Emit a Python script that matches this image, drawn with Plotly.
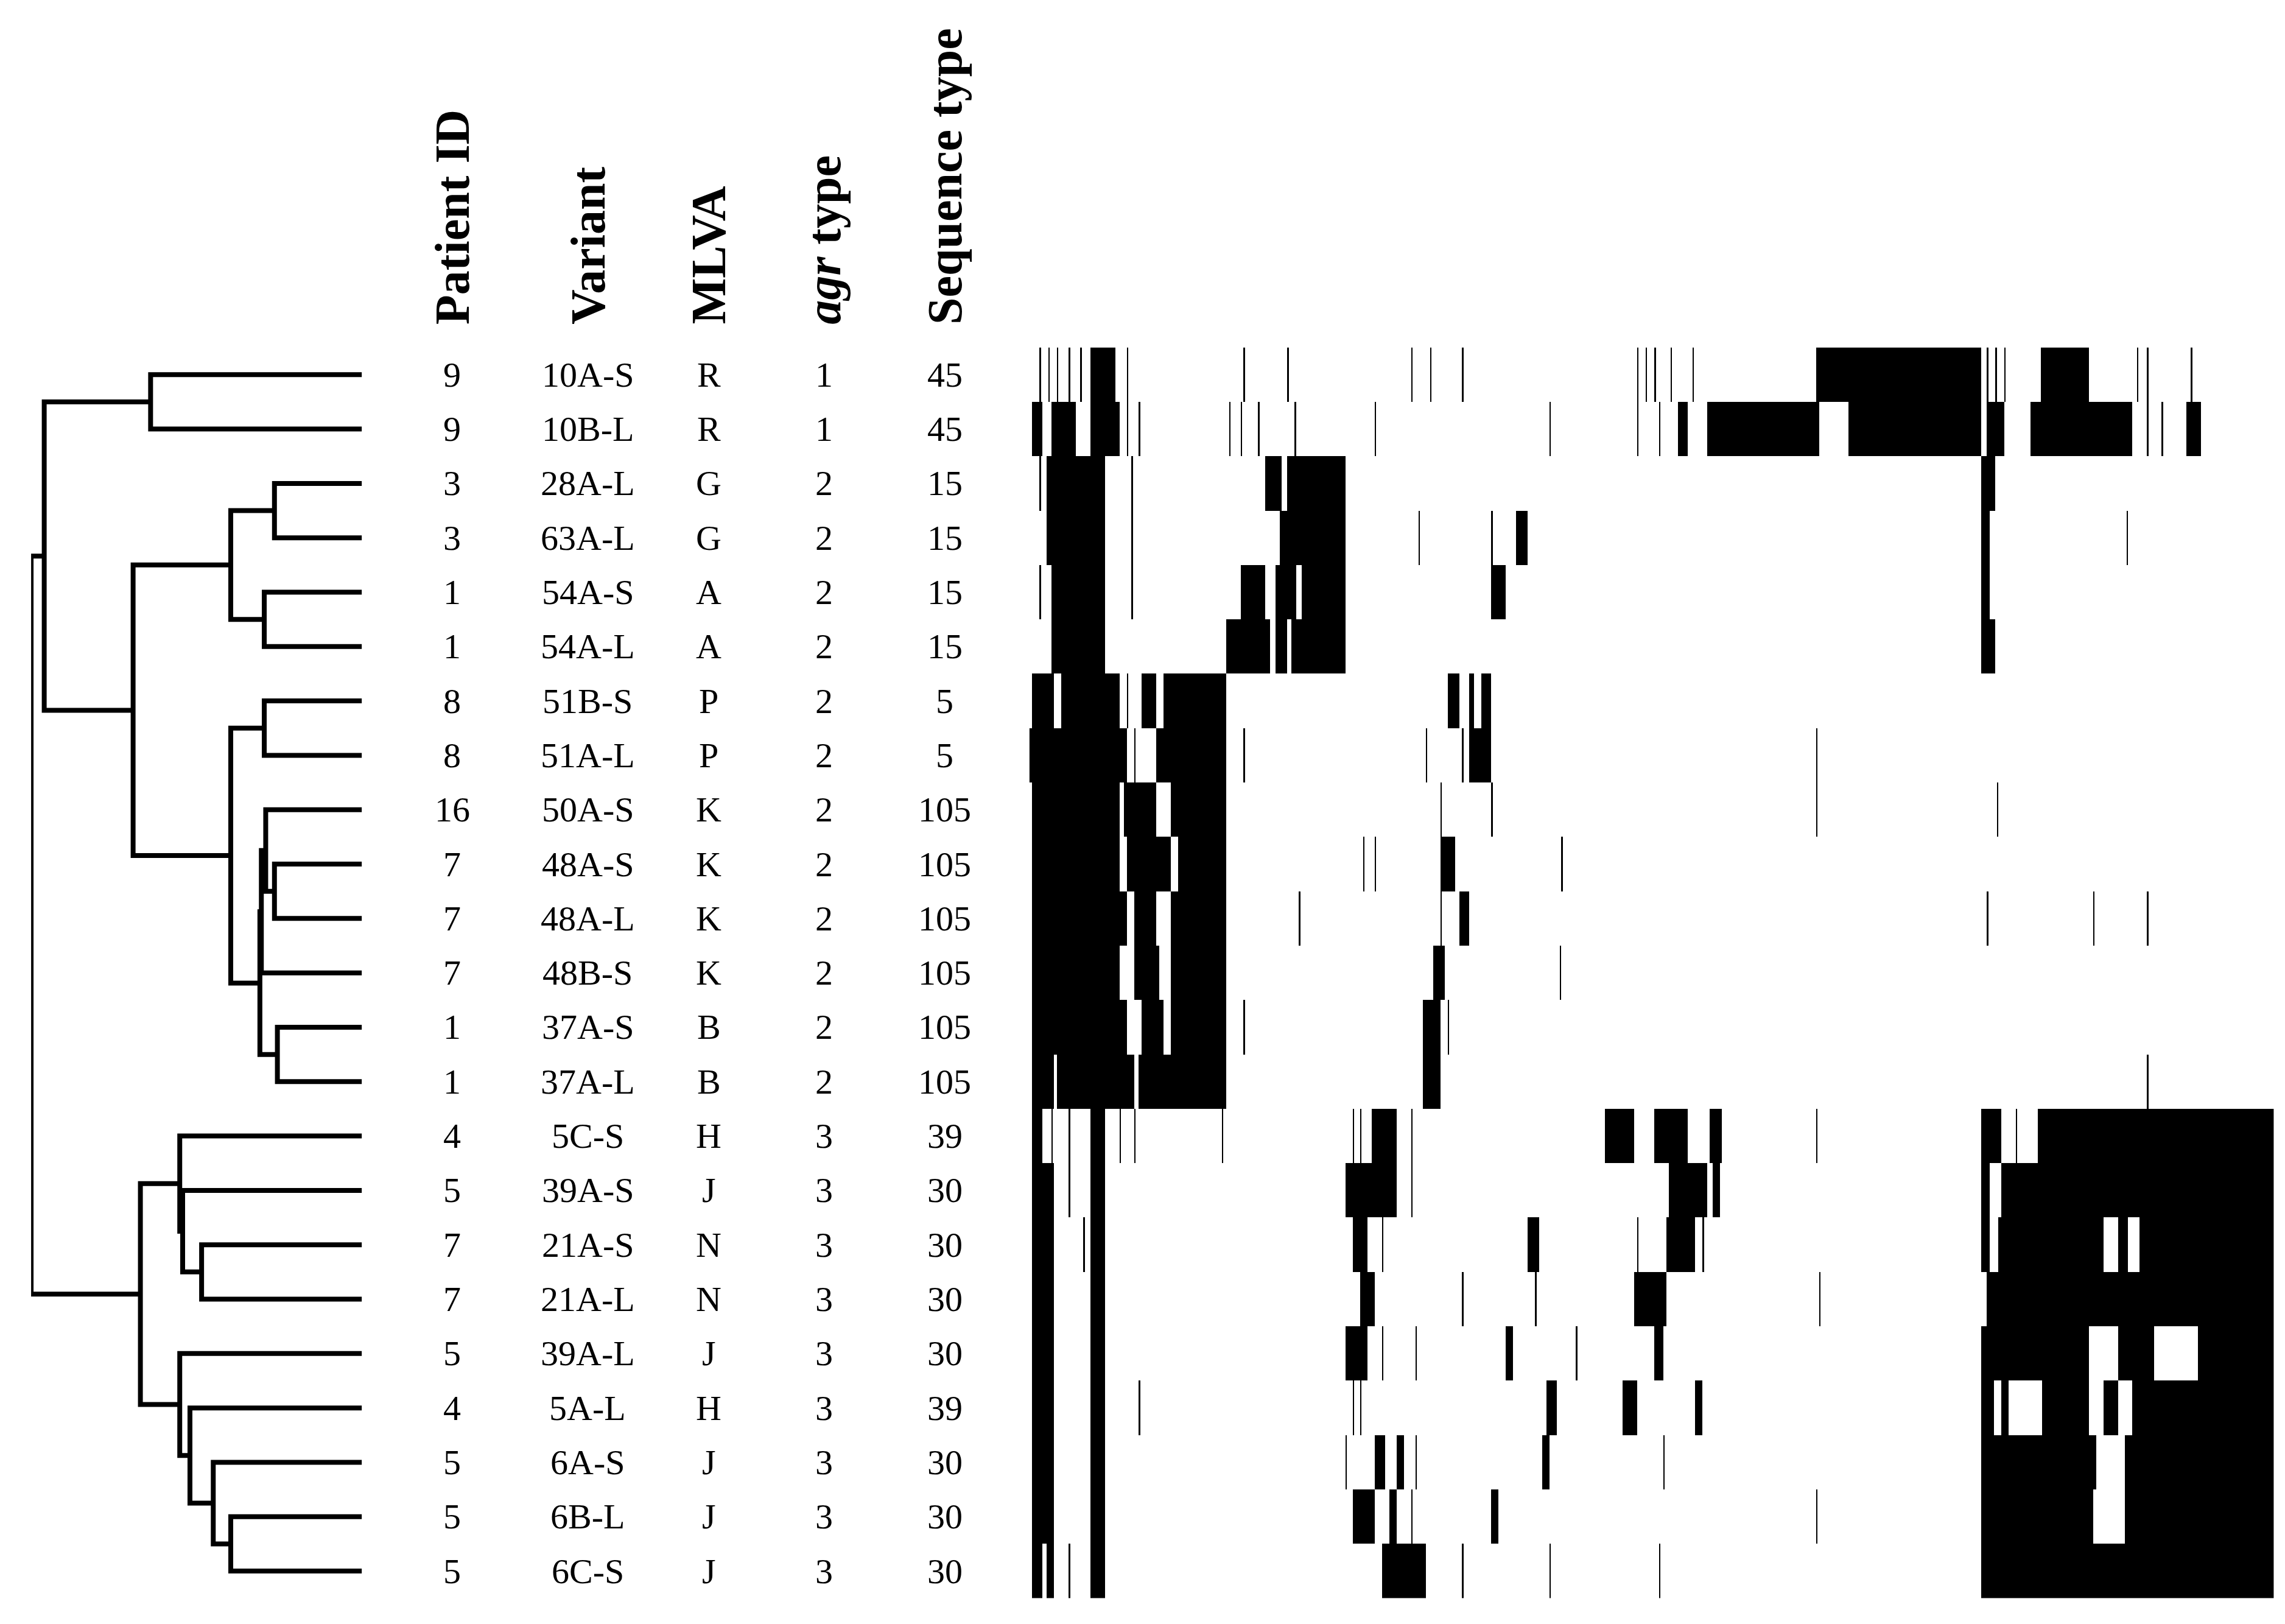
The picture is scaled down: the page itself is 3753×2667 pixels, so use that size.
import plotly.graph_objects as go
import numpy as np

W, H = 1568.0, 1114.0  # reference layout units

patient = ["9","9","3","3","1","1","8","8","16","7","7","7","1","1","4","5","7","7","5","4","5","5","5"]
variant = ["10A-S","10B-L","28A-L","63A-L","54A-S","54A-L","51B-S","51A-L","50A-S","48A-S","48A-L","48B-S","37A-S","37A-L",
           "5C-S","39A-S","21A-S","21A-L","39A-L","5A-L","6A-S","6B-L","6C-S"]
mlva = ["R","R","G","G","A","A","P","P","K","K","K","K","B","B","H","J","N","N","J","H","J","J","J"]
agr = ["1","1","2","2","2","2","2","2","2","2","2","2","2","2","3","3","3","3","3","3","3","3","3"]
seqtype = ["45","45","15","15","15","15","5","5","105","105","105","105","105","105","39","30","30","30","30","39","30","30","30"]

# dendrogram merges: (node a, node b, distance)
merges = [(0,1,145),(2,3,60),(4,5,67),(24,25,90),(6,7,67),(9,10,60),(8,28,66),(29,11,69),(12,13,58),
          (30,31,70),(27,32,90),(26,33,157),(23,34,218),(16,17,110),(15,36,123),(14,37,125),(21,22,90),
          (20,39,102),(19,40,118),(18,41,125),(38,42,152),(35,43,227)]

# black band intervals per strain (band position units)
bands = [
 [(7,8),(13,14),(19,20),(27,28),(35,36),(42,59),(67,68),(147,148),(177,178),(262,263),(275,276),(297,298),(417,418),(423,424),(429,430),(440,441),(455,456),(540,653),(657,658),(663,664),(669,670),(694,727),(760,761),(767,768),(797,798)],
 [(2,9),(15,32),(42,62),(67,68),(75,76),(137,138),(145,146),(157,158),(182,183),(237,238),(357,358),(417,418),(432,433),(445,452),(465,542),(562,653),(657,669),(687,757),(767,768),(777,778),(794,804)],
 [(7,8),(12,22),(22,52),(70,71),(162,173),(177,217),(653,663)],
 [(12,52),(70,71),(172,217),(267,268),(317,318),(334,342),(653,659),(753,754)],
 [(7,8),(15,52),(70,71),(145,162),(169,183),(187,217),(317,327),(653,659)],
 [(15,52),(135,165),(169,177),(180,217),(653,663)],
 [(2,17),(22,62),(67,68),(77,87),(92,135),(287,295),(302,305),(310,317)],
 [(0,67),(72,73),(87,135),(147,148),(272,273),(297,298),(302,317),(540,541)],
 [(2,62),(65,87),(97,135),(282,283),(317,318),(540,541),(664,665)],
 [(2,62),(67,97),(102,135),(229,230),(237,238),(282,292),(365,366)],
 [(2,67),(72,87),(97,135),(185,186),(282,283),(295,302),(657,658),(730,731),(767,768)],
 [(2,62),(72,89),(97,135),(277,285),(364,365)],
 [(2,67),(77,92),(97,135),(147,148),(270,282),(287,288)],
 [(2,17),(19,72),(75,135),(270,282),(767,768)],
 [(2,9),(15,16),(27,28),(42,52),(62,63),(72,73),(132,133),(222,223),(227,228),(235,252),(262,263),(395,415),(429,452),(467,475),(540,541),(653,667),(677,678),(692,854)],
 [(2,17),(27,28),(42,52),(217,252),(262,263),(439,465),(469,474),(653,659),(667,854)],
 [(2,17),(37,38),(42,52),(222,232),(242,243),(342,350),(417,418),(437,457),(462,463),(653,659),(665,737),(747,754),(762,854)],
 [(2,17),(42,52),(227,237),(297,298),(347,348),(415,437),(542,543),(657,854)],
 [(2,17),(42,52),(217,232),(242,243),(265,266),(327,332),(375,376),(429,435),(653,727),(747,772),(802,854)],
 [(2,17),(42,52),(75,76),(222,223),(227,228),(355,362),(407,417),(457,462),(653,662),(667,672),(695,727),(737,747),(757,854)],
 [(2,17),(42,52),(217,218),(237,244),(252,257),(265,266),(352,357),(435,436),(653,732),(752,854)],
 [(2,17),(42,52),(222,237),(247,252),(262,263),(317,322),(540,541),(653,730),(752,854)],
 [(2,9),(12,17),(27,28),(42,52),(242,272),(297,298),(357,358),(432,433),(653,854)],
]

n = len(variant)
ncol = 854
z = np.zeros((n, ncol))
for i, row in enumerate(bands):
    for a, b in row:
        z[i, a:b] = 1

def fx(px): return px / W
def fy(py): return 1 - py / H

ytop, ybot = 235.0, 1093.0
fig = go.Figure()

pos = {i: (0.0, float(i)) for i in range(n)}
xs, ys = [], []
nid = n
for a, b, d in merges:
    xa, ya = pos[a]; xb, yb = pos[b]
    xs += [xa, d, d, xb, None]; ys += [ya, ya, yb, yb, None]
    pos[nid] = (d, (ya + yb) / 2); nid += 1
fig.add_trace(go.Scatter(x=xs, y=ys, mode="lines", line=dict(color="black", width=8),
                         xaxis="x", yaxis="y", hoverinfo="skip", cliponaxis=False, showlegend=False))

fig.add_trace(go.Heatmap(z=z, x=np.arange(ncol), y=np.arange(n), colorscale=[[0, "white"], [1, "black"]],
                         zmin=0, zmax=1, showscale=False, xaxis="x2", yaxis="y", zsmooth=False))

font_row = dict(family="Liberation Serif", size=58, color="black")
font_hdr = dict(family="Liberation Serif", size=80, color="black")
cols = [(307, patient, "<b>Patient ID</b>"), (400, variant, "<b>Variant</b>"), (483, mlva, "<b>MLVA</b>"),
        (562, agr, "<b><i>agr</i> type</b>"), (645, seqtype, "<b>Sequence type</b>")]
ann = []
for cx, vals, hdr in cols:
    for i, v in enumerate(vals):
        ann.append(dict(x=fx(cx), xref="paper", y=i, yref="y", text=v, showarrow=False, font=font_row,
                        xanchor="center", yanchor="middle"))
    ann.append(dict(x=fx(cx), xref="paper", y=fy(220), yref="paper", text=hdr, showarrow=False, font=font_hdr,
                    textangle=-90, xanchor="center", yanchor="bottom"))

fig.update_layout(
    width=3753, height=2667, margin=dict(l=0, r=0, t=0, b=0),
    paper_bgcolor="white", plot_bgcolor="white", annotations=ann,
    xaxis=dict(domain=[fx(18), fx(245)], range=[227, 0], visible=False),
    xaxis2=dict(domain=[fx(703), fx(1557)], range=[-0.5, ncol - 0.5], visible=False, anchor="y"),
    yaxis=dict(domain=[fy(ybot), fy(ytop)], range=[n - 0.5, -0.5], visible=False),
)
fig.write_html("out.html")
